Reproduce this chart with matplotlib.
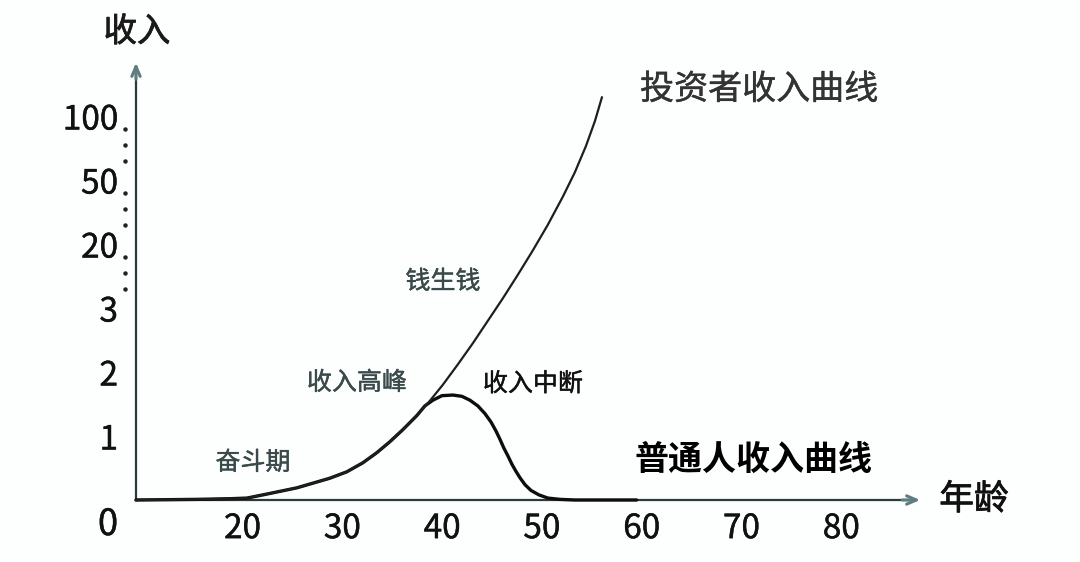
import matplotlib
matplotlib.use("Agg")
import matplotlib.pyplot as plt
import matplotlib.patheffects as pe
from matplotlib.transforms import blended_transform_factory

plt.rcParams['font.family'] = ['Noto Sans CJK SC', 'DejaVu Sans']

# ---------------- data ----------------
x_ticks = [20, 30, 40, 50, 60, 70, 80]
y_tick_pos = [1, 2, 3, 4, 5, 6]
y_tick_labels = ['1', '2', '3', '20', '50', '100']

# investor income curve (age, visual income position)
inv_age = [9.33, 15.44, 18.75, 20.45, 22.05, 25.45, 28.75, 30.45, 32.05, 33.47,
           34.77, 36.08, 37.48, 38.78, 40.08, 41.59, 43.09, 44.59, 46.09, 47.6,
           49.1, 50.6, 52.11, 53.31, 54.42, 55.32, 56.02]
inv_val = [0.0, 0.01, 0.02, 0.03, 0.08, 0.19, 0.34, 0.44, 0.58, 0.74,
           0.91, 1.10, 1.32, 1.55, 1.80, 2.12, 2.45, 2.80, 3.15, 3.52,
           3.90, 4.30, 4.74, 5.12, 5.53, 5.92, 6.29]

# ordinary person's income curve
ord_age = [9.33, 15.44, 18.75, 20.45, 22.05, 25.45, 28.75, 30.45, 32.05, 33.47,
           34.77, 36.08, 37.48, 38.28, 39.09, 39.99, 41.09, 41.99, 42.79, 43.59,
           44.30, 44.90, 45.40, 45.80, 46.20, 46.60, 47.00, 47.40, 47.80, 48.31,
           48.91, 49.71, 50.61, 51.81, 53.31, 59.5]
ord_val = [0.0, 0.01, 0.02, 0.03, 0.08, 0.19, 0.34, 0.44, 0.58, 0.74,
           0.91, 1.10, 1.32, 1.47, 1.56, 1.63, 1.64, 1.62, 1.56, 1.47,
           1.35, 1.22, 1.08, 0.95, 0.81, 0.69, 0.56, 0.45, 0.35, 0.24,
           0.15, 0.08, 0.03, 0.01, 0.0, 0.0]

# ellipsis dots between the compressed y labels
gap_starts = [3, 4, 5]
dot_offsets = [0.3, 0.55, 0.8]

# ---------------- figure ----------------
fig = plt.figure(figsize=(10.8, 5.62), dpi=100)
fig.patch.set_facecolor('#fdfefe')
ax = fig.add_axes([136 / 1080, 62 / 562, (923 - 136) / 1080, 440 / 562])
ax.set_facecolor('#fdfefe')
ax.set_xlim(9.33, 88.2)
ax.set_ylim(0, 6.875)
for s in ax.spines.values():
    s.set_visible(False)


def heavier(color, w=0.6):
    return [pe.withStroke(linewidth=w, foreground=color)]


axis_col = '#2b3a3a'
head_col = '#5f7d7e'
# axis lines
ax.plot([0, 0.985], [0, 0], transform=ax.transAxes, color=axis_col, lw=1.6,
        clip_on=False, zorder=3)
ax.plot([0, 0], [0, 0.985], transform=ax.transAxes, color=axis_col, lw=1.6,
        clip_on=False, zorder=3)
ax.annotate('', xy=(1.0, 0), xytext=(0.97, 0), xycoords='axes fraction',
            arrowprops=dict(arrowstyle='->,head_length=0.7,head_width=0.3',
                            color=head_col, lw=2.2), annotation_clip=False)
ax.annotate('', xy=(0, 1.0), xytext=(0, 0.95), xycoords='axes fraction',
            arrowprops=dict(arrowstyle='->,head_length=0.7,head_width=0.3',
                            color=head_col, lw=2.2), annotation_clip=False)

# ticks
ax.set_xticks(x_ticks)
ax.set_xticklabels([str(v) for v in x_ticks])
ax.set_yticks(y_tick_pos)
ax.set_yticklabels(y_tick_labels)
ax.tick_params(axis='both', length=0, labelsize=24, colors='#111111')
ax.tick_params(axis='x', pad=8)
ax.tick_params(axis='y', pad=13)
for lab in ax.get_xticklabels() + ax.get_yticklabels():
    lab.set_path_effects(heavier('#111111', 0.3))

# origin label
ax.annotate('0', xy=(0, 0), xycoords='axes fraction', xytext=(-28, -25),
            textcoords='offset pixels', ha='center', va='center',
            fontsize=26, color='#111111', annotation_clip=False,
            path_effects=heavier('#111111', 0.3))

# ellipsis dots
tr = blended_transform_factory(ax.transAxes, ax.transData)
dots_y = [g + o for g in gap_starts for o in dot_offsets]
ax.plot([-0.014] * len(dots_y), dots_y, 'o', ms=2.2, color='#222222',
        transform=tr, clip_on=False)

# curves
ax.plot(ord_age, ord_val, color='#0d0d0d', lw=2.4, solid_capstyle='round',
        solid_joinstyle='round', zorder=4, clip_on=False)
ax.plot(inv_age, inv_val, color='#1e1e1e', lw=1.6, solid_joinstyle='round',
        zorder=5, clip_on=False)

# axis titles
ax.annotate('收入', xy=(0, 1), xycoords='axes fraction', xytext=(1, 28),
            textcoords='offset pixels', ha='center', va='center',
            fontsize=24, color='#1a1a1a', annotation_clip=False,
            path_effects=heavier('#1a1a1a', 0.6))
ax.annotate('年龄', xy=(1, 0), xycoords='axes fraction', xytext=(51, 0),
            textcoords='offset pixels', ha='center', va='center',
            fontsize=25, color='#111111', annotation_clip=False,
            path_effects=heavier('#111111', 0.6))

# curve labels
ax.text(71.77, 6.41, '投资者收入曲线', ha='center', va='center', fontsize=24.5,
        color='#333333', path_effects=heavier('#333333', 0.3))
ax.text(71.17, 0.64, '普通人收入曲线', ha='center', va='center', fontsize=24.5,
        color='#000000', fontweight='bold')

# stage labels
stage_col = '#3a4949'
ax.text(21.05, 0.58, '奋斗期', ha='center', va='center', fontsize=18,
        color=stage_col, path_effects=heavier(stage_col, 0.3))
ax.text(31.47, 1.83, '收入高峰', ha='center', va='center', fontsize=18,
        color=stage_col, path_effects=heavier(stage_col, 0.3))
ax.text(40.09, 3.41, '钱生钱', ha='center', va='center', fontsize=18,
        color=stage_col, path_effects=heavier(stage_col, 0.3))
ax.text(49.11, 1.81, '收入中断', ha='center', va='center', fontsize=18,
        color='#111111', path_effects=heavier('#111111', 0.3))

fig.savefig('out.png', dpi=100, facecolor=fig.get_facecolor())
